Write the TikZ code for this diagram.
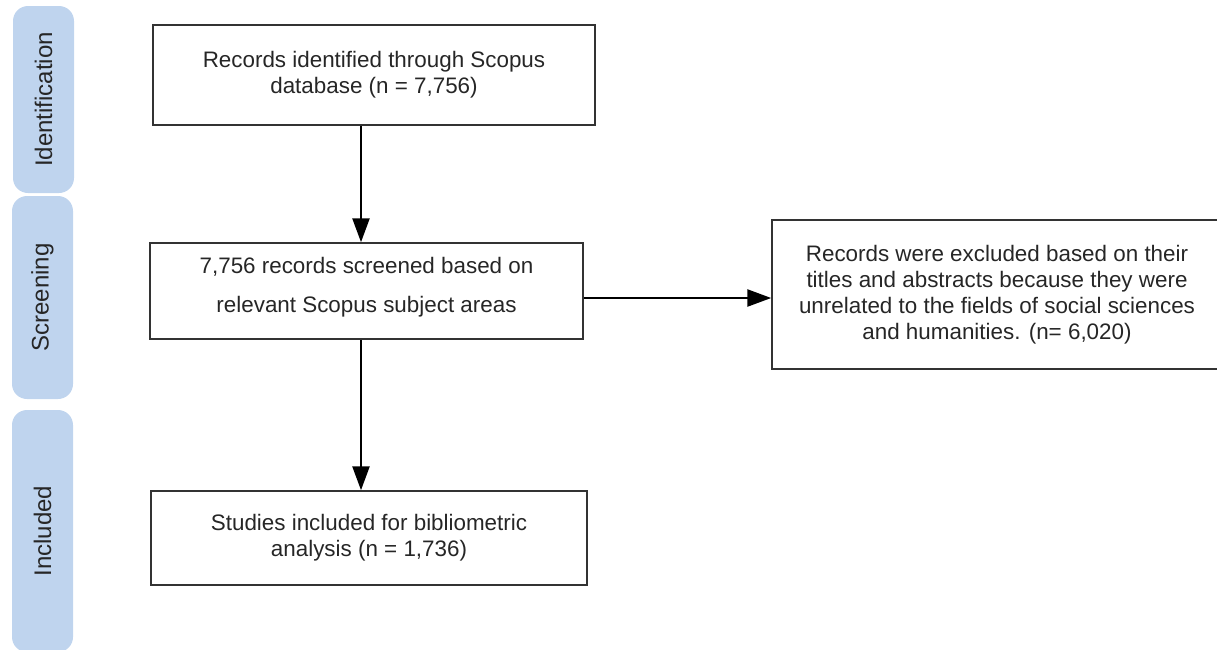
\documentclass[tikz,border=0pt]{standalone}
\usepackage{fontspec}
\setmainfont{Liberation Sans}
\usetikzlibrary{arrows.meta}
\usetikzlibrary{positioning}
\definecolor{phaseblue}{RGB}{191,212,238}
\tikzset{box/.style = {draw = black!80, line width = 1.5, align = center, inner sep = 0,
    text = black!85, font = \fontsize{22.4}{26}\selectfont}}
\tikzset{phase/.style = {fill = phaseblue, rounded corners = 15, rotate = 90, inner sep = 0,
    minimum height = 61, text = black!85, font = \fontsize{24}{28}\selectfont}}
\tikzset{flow/.style = {line width = 2.5, -{Triangle[length = 24, width = 17]}}}

\begin{document}
\begin{tikzpicture}[x = 1pt, y = -1pt]
    \useasboundingbox (0, 0) rectangle (1217, 649);

    \node [phase, minimum width = 187] (ident) at (43.5, 99.5) {Identification};
    \node [phase, minimum width = 203] (screening) at (42.5, 297.5) {Screening};
    \node [phase, minimum width = 242] (included) at (42.5, 531) {Included};

    \node [box, minimum width = 442, minimum height = 100] (found) at (374, 75)
        {Records identified through Scopus\\database (n = 7,756)};
    \node [box, minimum width = 433, minimum height = 96] (screen) at (366.5, 291)
        {7,756 records screened based on\\[13pt]relevant Scopus subject areas\\[-13pt]};
    \node [box, minimum width = 450, minimum height = 149] (dropped) at (997, 294.5)
        {Records were excluded based on their\\titles and abstracts because they were\\unrelated to the fields of social sciences\\and humanities. (n= 6,020)};
    \node [box, minimum width = 436, minimum height = 94] (kept) at (369, 538)
        {Studies included for bibliometric\\analysis (n = 1,736)};

    \coordinate (spine) at (361, 0);
    \coordinate (branch) at (0, 298);
    \draw [flow] (found.south -| spine) -- (screen.north -| spine);
    \draw [flow] (screen.south -| spine) -- (kept.north -| spine);
    \draw [flow] (screen.east |- branch) -- (dropped.west |- branch);
\end{tikzpicture}
\end{document}
